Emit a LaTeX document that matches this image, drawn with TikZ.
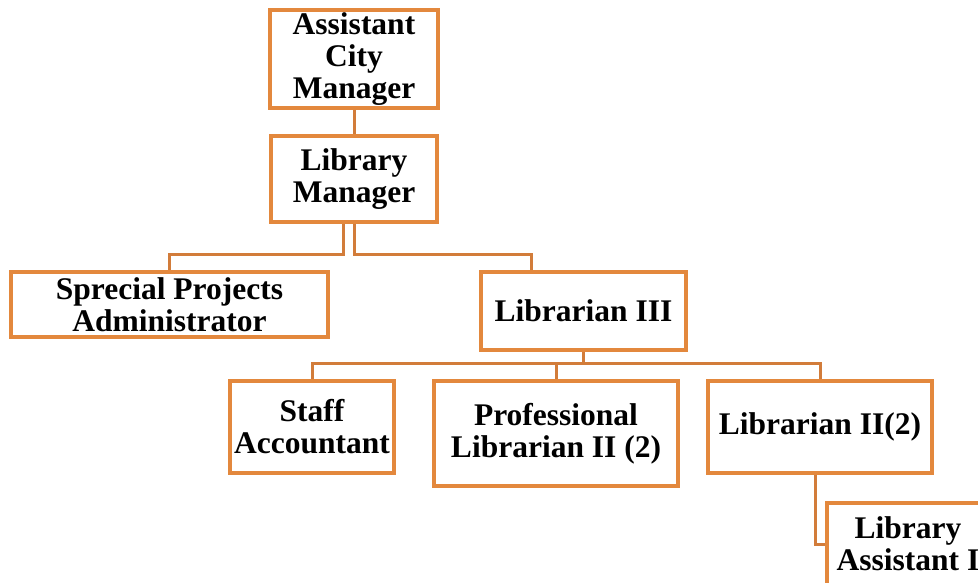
\documentclass[tikz,border=0pt]{standalone}
\usepackage{fontspec}
\setmainfont{Liberation Serif}
\usepackage{tikz}
\definecolor{boxorange}{RGB}{227, 136, 61}
\definecolor{lineorange}{RGB}{210, 124, 58}

\begin{document}
\begin{tikzpicture}[x=1pt, y=-1pt,
    post/.style={draw=boxorange, line width=3.4pt, fill=white, align=center,
      inner sep=0pt, font=\fontsize{31.5}{32}\selectfont\bfseries},
    link/.style={draw=lineorange, line width=3pt}]

  \clip (0, 0) rectangle (978, 582);
  \fill[white] (0, 0) rectangle (978, 582);

  % posts
  \node[post, minimum width=168, minimum height=98] (acm) at (354, 59)
    {Assistant\\City\\Manager};
  \node[post, minimum width=166, minimum height=86] (libmgr) at (354, 179)
    {Library\\Manager};
  \node[post, minimum width=317, minimum height=65] (spa) at (169.5, 304.5)
    {Sprecial Projects\\Administrator};
  \node[post, minimum width=205, minimum height=78] (lib3) at (583.5, 311)
    {Librarian III};
  \node[post, minimum width=164, minimum height=92] (staff) at (312, 427)
    {Staff\\Accountant};
  \node[post, minimum width=244, minimum height=105] (prof) at (556, 433.5)
    {Professional\\Librarian II (2)};
  \node[post, minimum width=224, minimum height=92] (lib2) at (820, 427)
    {Librarian II(2)};
  \node[post, minimum width=162, minimum height=82] (libasst) at (908, 544)
    {Library\\Assistant I};

  % connectors
  \draw[link] (acm.south) -- (libmgr.north);
  \draw[link] ([xshift=-11pt]libmgr.south) -- ++(0, 31) -| (spa.north);
  \draw[link] (libmgr.south) -- ++(0, 31) -| ([xshift=-52pt]lib3.north);
  \draw[link] (lib3.south) -- ++(0, 12) -| (staff.north);
  \draw[link] (lib3.south) ++(0, 12) -| (prof.north);
  \draw[link] (lib3.south) ++(0, 12) -| (lib2.north);
  \draw[link] ([xshift=-5pt]lib2.south) |- (libasst.west);

\end{tikzpicture}
\end{document}
